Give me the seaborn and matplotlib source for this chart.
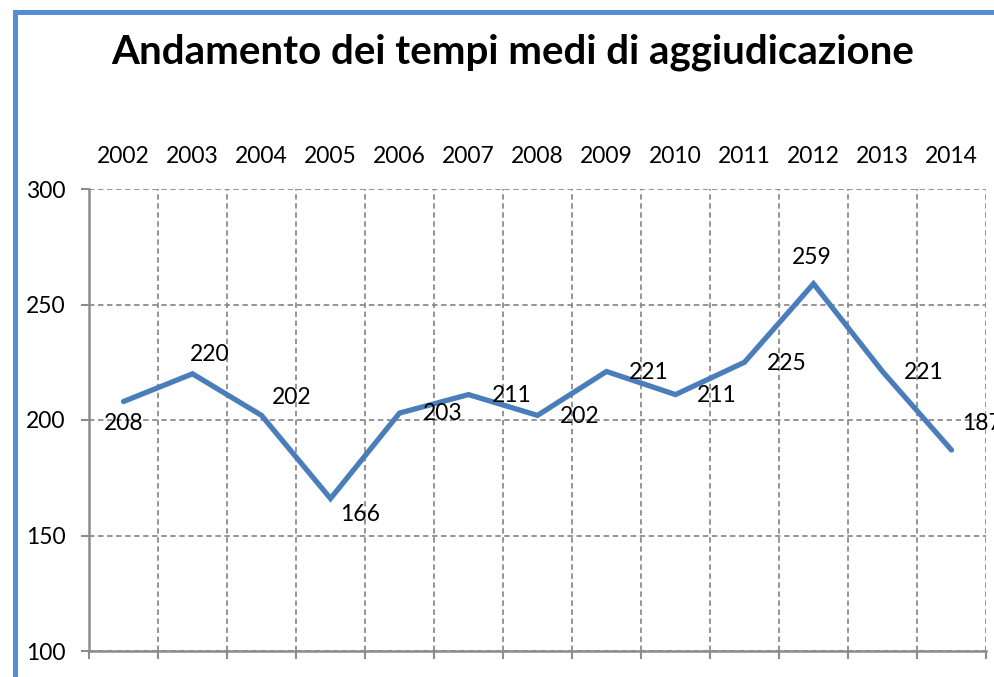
import matplotlib
matplotlib.use("Agg")
import matplotlib.pyplot as plt
import seaborn as sns
import pandas as pd
from matplotlib.patches import Rectangle

years = ["2002", "2003", "2004", "2005", "2006", "2007", "2008",
         "2009", "2010", "2011", "2012", "2013", "2014"]
values = [208, 220, 202, 166, 203, 211, 202, 221, 211, 225, 259, 221, 187]
y_ticks = [100, 150, 200, 250, 300]
title = "Andamento dei tempi medi di aggiudicazione"

# label offsets in pixels (dx, dy; dy positive = up)
label_offsets = [(0, -22), (17, 19), (30, 18), (30, -16), (43, 0), (43, -1),
                 (42, -1), (42, -1), (41, -1), (42, -1), (-2, 26), (41, -1), (30, 27)]

sns.set_theme(style="white")
plt.rcParams['font.family'] = ['Lato', 'DejaVu Sans']

W, H = 994, 677
fig = plt.figure(figsize=(W / 100, H / 100), dpi=100)
ax = fig.add_axes([89 / W, (H - 651) / H, (986 - 89) / W, (651 - 189) / H])

df = pd.DataFrame({"year": years, "value": values})
sns.lineplot(data=df, x="year", y="value", ax=ax, color="#4A7EBB",
             linewidth=3.8, sort=False)
for ln in ax.lines:
    ln.set_solid_capstyle("round")
    ln.set_solid_joinstyle("miter")

n = len(years)
ax.set_xlim(-0.5, n - 0.5)
ax.set_ylim(100, 300)
ax.set_yticks(y_ticks)
ax.set_xticks(range(n))
ax.set_xticklabels(years)
ax.set_xticks([i - 0.5 for i in range(n + 1)], minor=True)

grid_col = "#8C8C8C"
ax.grid(which="major", axis="y", color=grid_col, linestyle=(0, (3, 2)), linewidth=1.3)
ax.grid(which="minor", axis="x", color=grid_col, linestyle=(0, (3, 2)), linewidth=1.3)
ax.grid(which="major", axis="x", visible=False)

fs = 16.5
ax.tick_params(axis="x", which="major", top=True, bottom=False, labeltop=True,
               labelbottom=False, length=0, pad=16, labelsize=fs, colors="black")
ax.tick_params(axis="x", which="minor", bottom=True, top=False, length=6,
               width=1.5, color=grid_col, direction="out")
ax.tick_params(axis="y", which="major", left=True, length=6, width=1.5,
               color=grid_col, pad=11, labelsize=fs, labelcolor="black")

for side in ["top", "right"]:
    ax.spines[side].set_visible(False)
for side in ["left", "bottom"]:
    ax.spines[side].set_color(grid_col)
    ax.spines[side].set_linewidth(1.8)

ax.set_xlabel("")
ax.set_ylabel("")

for i, (v, off) in enumerate(zip(values, label_offsets)):
    ax.annotate(str(v), xy=(i, v), xytext=off, textcoords="offset pixels",
                ha="center", va="center", fontsize=fs, color="black",
                annotation_clip=False)

fig.text(513 / W, 1 - 52 / H, title, ha="center", va="center",
         fontsize=29, fontweight="bold", color="black")

fig.patches.append(Rectangle((14.5 / W, -0.1), 1.2, 1 - 12 / H + 0.1,
                             transform=fig.transFigure, fill=False,
                             edgecolor="#558ED5", linewidth=3.6, figure=fig))

fig.savefig("out.png", dpi=100)
